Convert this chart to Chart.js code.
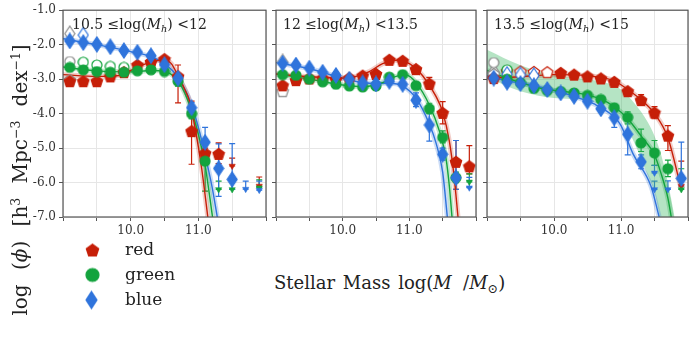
<!DOCTYPE html>
<html>
<head>
<meta charset="utf-8">
<script src="https://cdn.jsdelivr.net/npm/chart.js@4.4.0/dist/chart.umd.min.js"></script>
<style>
body { margin: 0; background: #fff; width: 695px; height: 343px; position: relative; overflow: hidden; font-family: "DejaVu Serif", serif; color: #222; }
canvas.panel { position: absolute; top: 0; }
.txt { position: absolute; white-space: nowrap; }
.ttl { font-size: 14px; }
sub { font-size: 0.7em; vertical-align: -0.35em; line-height: 0; }
sup { font-size: 0.62em; vertical-align: 0.6em; line-height: 0; }
.leg { position: absolute; left: 85px; font-size: 17px; height: 25px; line-height: 25px; }
.leg canvas { position: absolute; left: 0; top: 50%; transform: translate(0, -50%); }
.leg span { position: absolute; left: 40px; }
</style>
</head>
<body>
<canvas id="p1" class="panel" width="272" height="240" style="left:0px"></canvas>
<canvas id="p2" class="panel" width="212" height="240" style="left:270px"></canvas>
<canvas id="p3" class="panel" width="213" height="240" style="left:481px"></canvas>

<div class="txt ttl" style="left:72px;top:16px">10.5 ≤log(<i>M</i><sub><i>h</i></sub>) &lt;12</div>
<div class="txt ttl" style="left:283px;top:16px">12 ≤log(<i>M</i><sub><i>h</i></sub>) &lt;13.5</div>
<div class="txt ttl" style="left:494px;top:16px">13.5 ≤log(<i>M</i><sub><i>h</i></sub>) &lt;15</div>

<div class="txt" style="left:274px;top:272px;font-size:18px;word-spacing:2px">Stellar Mass log(<i>M</i>&thinsp; /<i>M</i><sub>⊙</sub>)</div>
<div class="txt" style="left:-155px;top:168px;width:350px;height:24px;line-height:24px;text-align:center;font-size:20px;word-spacing:8px;transform:rotate(-90deg)">log (<i>ϕ</i>) [h<sup>3</sup> Mpc<sup>−3</sup> dex<sup>−1</sup>]</div>

<div id="legend"></div>

<script>
// mass bins (log M*), shared by all panels
const mass = [9.1, 9.3, 9.5, 9.7, 9.9, 10.1, 10.3, 10.5, 10.7, 10.9, 11.1, 11.3, 11.5, 11.7, 11.9];

// ---- panel 1: 10.5 <= log Mh < 12
const red1   = [-3.06, -3.06, -3.06, -2.92, -2.80, -2.59, -2.50, -2.42, -2.92, -4.51, -5.15, -5.17, null, null, null];
const green1 = [-2.66, -2.73, -2.78, -2.80, -2.80, -2.76, -2.73, -2.78, -3.06, -4.00, -5.38, null, null, null, null];
const blue1  = [-1.89, -1.94, -1.99, -2.06, -2.17, -2.22, -2.32, -2.58, -2.97, -3.83, -4.83, -5.59, -5.91, null, null];
const red1Err   = [[10.7, -3.69, -2.59], [10.9, -5.47, -3.64], [11.1, -5.30, -5.00], [11.3, -5.45, -4.85]];
const green1Err = [[10.7, -3.20, -2.92], [10.9, -4.15, -3.85], [11.1, -6.25, -5.10]];
const blue1Err  = [[10.7, -3.08, -2.86], [10.9, -3.98, -3.68], [11.1, -5.26, -4.40], [11.3, -6.40, -4.88], [11.5, -6.20, -4.87]];
const red1Lim   = [[11.5, -5.52, -5.29], [11.9, -6.10, -5.84]];
const green1Lim = [[11.3, -6.20, -5.96], [11.5, -6.20, -5.96], [11.9, -6.15, -5.92]];
const blue1Lim  = [[11.7, -6.19, -5.96], [11.9, -6.22, -5.96]];
const open1Red = [];
const open1Green = [[9.3, -2.51], [9.5, -2.59], [9.7, -2.63], [9.9, -2.66]];
const open1Blue = [[9.3, -1.72]];
const grey1Pent = [[9.1, -3.02]];
const grey1Circ = [[9.1, -2.49]];
const grey1Diam = [[9.1, -1.68]];
const fit1RedX   = [9.0, 9.5, 9.8, 10.0, 10.2, 10.4, 10.5, 10.6, 10.7, 10.8, 10.87, 10.96, 11.05, 11.14];
const fit1RedY   = [-2.87, -2.92, -2.90, -2.75, -2.57, -2.46, -2.44, -2.55, -2.90, -3.30, -3.64, -4.50, -5.60, -7.00];
const fit1GreenX = [9.0, 9.5, 10.0, 10.3, 10.5, 10.6, 10.7, 10.8, 10.9, 11.0, 11.1, 11.21];
const fit1GreenY = [-2.65, -2.76, -2.79, -2.75, -2.78, -2.86, -3.05, -3.40, -3.92, -4.60, -5.50, -7.00];
const fit1BlueX  = [9.0, 9.5, 10.0, 10.3, 10.5, 10.7, 10.9, 11.0, 11.1, 11.2, 11.28];
const fit1BlueY  = [-1.83, -2.00, -2.20, -2.35, -2.55, -2.95, -3.75, -4.40, -5.20, -6.10, -7.00];

// ---- panel 2: 12 <= log Mh < 13.5
const red2   = [-3.18, -3.03, -2.98, -2.98, -3.00, -2.97, -2.90, -2.85, -2.44, -2.47, -2.71, -3.13, -3.98, -5.40, -5.53];
const green2 = [-2.87, -2.89, -3.00, -3.08, -3.15, -3.20, -3.23, -3.20, -2.94, -2.87, -3.19, -3.86, -4.69, -5.86, null];
const blue2  = [-2.54, -2.59, -2.68, -2.80, -2.89, -3.00, -3.11, -3.14, -3.06, -3.15, -3.61, -4.33, -5.18, -5.86, null];
const red2Err   = [[11.3, -3.30, -2.95], [11.5, -4.30, -3.65], [11.7, -6.20, -4.78], [11.9, -5.75, -4.93]];
const green2Err = [[11.3, -4.00, -3.70], [11.5, -4.85, -4.50], [11.7, -6.00, -5.70]];
const blue2Err  = [[11.1, -3.80, -3.40], [11.3, -4.80, -3.95], [11.5, -5.35, -5.00], [11.7, -6.20, -4.78]];
const red2Lim   = [];
const green2Lim = [[11.9, -5.98, -5.75]];
const blue2Lim  = [[11.9, -6.15, -5.85]];
const open2Red = [];
const open2Green = [];
const open2Blue = [];
const grey2Pent = [[9.1, -3.35]];
const grey2Circ = [];
const grey2Diam = [[9.1, -2.50]];
const fit2RedX   = [9.0, 9.5, 10.0, 10.2, 10.4, 10.6, 10.8, 11.0, 11.2, 11.4, 11.5, 11.6, 11.67, 11.73];
const fit2RedY   = [-2.85, -2.93, -2.97, -2.92, -2.78, -2.55, -2.45, -2.55, -2.90, -3.50, -3.95, -4.80, -5.80, -7.00];
const fit2GreenX = [9.0, 9.5, 10.0, 10.3, 10.6, 10.8, 10.95, 11.1, 11.3, 11.45, 11.55, 11.6, 11.64];
const fit2GreenY = [-2.85, -3.00, -3.17, -3.22, -3.10, -2.92, -2.88, -3.10, -3.75, -4.50, -5.30, -6.10, -7.00];
const fit2BlueX  = [9.0, 9.5, 10.0, 10.4, 10.7, 10.9, 11.1, 11.3, 11.4, 11.5, 11.57];
const fit2BlueY  = [-2.52, -2.70, -2.97, -3.12, -3.12, -3.20, -3.55, -4.30, -4.85, -5.70, -7.00];

// ---- panel 3: 13.5 <= log Mh < 15
const red3   = [-2.97, null, null, null, null, -2.82, -2.87, -2.92, -2.98, -3.08, -3.35, -3.61, -3.97, -4.64, null];
const green3 = [null, -3.00, -3.11, -3.27, -3.33, -3.36, -3.40, -3.47, -3.59, -3.83, -4.11, -4.85, -5.14, -5.60, null];
const blue3  = [-2.97, -3.09, -3.13, -3.19, -3.30, -3.40, -3.50, -3.64, -3.86, -4.12, -4.60, -5.40, null, null, -5.88];
const red3Err   = [[11.3, -3.75, -3.45], [11.5, -4.15, -3.80], [11.7, -5.07, -4.35]];
const green3Err = [[11.1, -4.30, -3.95], [11.3, -5.10, -4.45], [11.5, -5.50, -4.78], [11.7, -5.83, -5.35]];
const blue3Err  = [[10.9, -4.40, -3.95], [11.1, -5.20, -4.20], [11.3, -5.60, -5.20], [11.9, -6.10, -4.83]];
const red3Lim   = [[11.9, -6.10, -5.38]];
const green3Lim = [[11.9, -6.20, -5.60]];
const blue3Lim  = [[11.5, -5.72, -5.50], [11.5, -6.20, -5.96], [11.7, -6.20, -5.95]];
const open3Red = [[9.3, -2.77], [9.5, -2.78], [9.7, -2.79], [9.9, -2.80]];
const open3Green = [[9.3, -2.73]];
const open3Blue = [[9.3, -2.86], [9.5, -2.88], [9.7, -2.90]];
const grey3Pent = [[9.1, -2.85]];
const grey3Circ = [[9.1, -2.52]];
const grey3Diam = [[9.1, -2.78]];
const fit3RedX   = [9.0, 9.5, 10.0, 10.5, 10.9, 11.1, 11.3, 11.5, 11.7, 11.9];
const fit3RedY   = [-2.97, -2.93, -2.87, -2.90, -3.05, -3.30, -3.60, -4.00, -4.70, -6.20];
const fit3GreenX = [9.0, 9.3, 9.5, 9.8, 10.1, 10.4, 10.7, 10.9, 11.1, 11.3, 11.5, 11.6, 11.7, 11.75];
const fit3GreenY = [-2.75, -2.97, -3.10, -3.27, -3.35, -3.42, -3.58, -3.80, -4.15, -4.65, -5.20, -5.75, -6.45, -7.00];
const fit3BlueX  = [9.0, 9.3, 9.6, 10.0, 10.3, 10.6, 10.9, 11.0, 11.18, 11.45, 11.57];
const fit3BlueY  = [-2.90, -3.05, -3.15, -3.33, -3.50, -3.72, -4.10, -4.35, -5.17, -6.12, -7.00];
const band3X  = [9.0, 9.5, 10.0, 10.5, 10.8, 11.0, 11.2, 11.4, 11.5, 11.6, 11.7, 11.8];
const band3Hi = [-2.15, -2.60, -2.87, -3.00, -3.12, -3.30, -3.70, -4.25, -4.65, -5.20, -6.00, -7.00];
const band3Lo = [-2.95, -3.35, -3.55, -3.62, -3.85, -4.15, -4.85, -5.80, -6.30, -7.20, -8.20, -9.20];

const RED = '#c61f08', GREEN = '#13a33d', BLUE = '#2f74dc', GREY = '#8a8a8a';

// marker images (Chart.js has no pentagon or tall diamond)
function marker(shape, fill, stroke, s) {
    const c = document.createElement('canvas');
    const w = shape === 'diam' ? Math.round(s * 0.64) : s;
    c.width = w + 2; c.height = s + 2;
    const g = c.getContext('2d');
    g.fillStyle = fill; g.strokeStyle = stroke; g.lineWidth = 1.2;
    const cx = c.width / 2, cy = c.height / 2;
    g.beginPath();
    if (shape === 'pent') {
        const r = s / 2;
        for (let k = 0; k < 5; k++) {
            const a = -Math.PI / 2 + k * 2 * Math.PI / 5;
            g.lineTo(cx + r * Math.cos(a), cy + r * Math.sin(a) + r * 0.1);
        }
        g.closePath();
    } else if (shape === 'diam') {
        g.moveTo(cx, 1); g.lineTo(cx + w / 2, cy); g.lineTo(cx, s + 1); g.lineTo(cx - w / 2, cy); g.closePath();
    } else {
        g.arc(cx, cy, s / 2, 0, Math.PI * 2);
    }
    g.fill(); g.stroke();
    return c;
}
const SIZE = { pent: 12, circ: 10, diam: 15 };
const mk = (shape, col, hollow) => marker(shape, hollow ? '#fff' : col, col, SIZE[shape]);

// error bars + upper-limit stems
const errorBars = {
    id: 'errorBars',
    beforeDatasetsDraw(chart) {
        const { ctx, scales: { x, y } } = chart;
        ctx.save();
        ctx.lineWidth = 1.2;
        chart.data.datasets.forEach(ds => {
            if (!ds.bars) return;
            ctx.strokeStyle = ds.bars;
            ds.data.forEach(p => {
                if (p.lo == null) return;
                const px = x.getPixelForValue(p.x);
                const a = y.getPixelForValue(p.lo), b = y.getPixelForValue(p.hi);
                ctx.beginPath();
                ctx.moveTo(px, a); ctx.lineTo(px, b);
                ctx.moveTo(px - 3, b); ctx.lineTo(px + 3, b);
                ctx.moveTo(px - 3, a); ctx.lineTo(px + 3, a);
                ctx.stroke();
            });
        });
        ctx.restore();
    }
};

const frame = {
    id: 'frame',
    afterDraw(chart) {
        const { ctx, chartArea: a } = chart;
        ctx.save();
        ctx.strokeStyle = '#555';
        ctx.lineWidth = 1.2;
        ctx.strokeRect(a.left, a.top, a.right - a.left, a.bottom - a.top);
        ctx.restore();
    }
};

function zip(xs, ys) { return xs.map((x, i) => ({ x: x, y: ys[i] })); }

function series(vals, errs) {
    const out = [];
    mass.forEach((m, i) => {
        if (vals[i] == null) return;
        const e = errs.find(r => r[0] === m);
        out.push({ x: m, y: vals[i], lo: e ? e[1] : null, hi: e ? e[2] : null });
    });
    return out;
}

function makePanel(id, p, showY, padRight) {
    const ds = [];
    const cols = { red: RED, green: GREEN, blue: BLUE };
    const shapes = { red: 'pent', green: 'circ', blue: 'diam' };
    const halo = { red: 'rgba(198,31,8,0.22)', green: 'rgba(19,163,61,0.25)', blue: 'rgba(47,116,220,0.25)' };

    if (p.bandX) {
        ds.push({ data: zip(p.bandX, p.bandHi), fill: '+1', backgroundColor: 'rgba(60,185,100,0.38)', borderColor: 'rgba(0,0,0,0)', pointRadius: 0, cubicInterpolationMode: 'monotone', order: 30 });
        ds.push({ data: zip(p.bandX, p.bandLo), fill: false, borderColor: 'rgba(0,0,0,0)', pointRadius: 0, cubicInterpolationMode: 'monotone', order: 30 });
    }
    ['red', 'green', 'blue'].forEach(c => {
        const f = zip(p.fit[c][0], p.fit[c][1]);
        ds.push({ data: f, borderColor: halo[c], borderWidth: 5, pointRadius: 0, fill: false, cubicInterpolationMode: 'monotone', order: 25 });
        ds.push({ data: f, borderColor: cols[c], borderWidth: 1.4, pointRadius: 0, fill: false, cubicInterpolationMode: 'monotone', order: 20 });
    });
    // grey hollow (uncorrected) points
    [['pent', p.grey.pent], ['circ', p.grey.circ], ['diam', p.grey.diam]].forEach(([s, arr]) => {
        if (!arr.length) return;
        ds.push({ data: arr.map(r => ({ x: r[0], y: r[1] })), showLine: false, pointStyle: mk(s, GREY, true), pointRadius: 5, order: 15 });
    });
    ['red', 'green', 'blue'].forEach((c, k) => {
        if (p.open[c].length) {
            ds.push({ data: p.open[c].map(r => ({ x: r[0], y: r[1] })), showLine: false, pointStyle: mk(shapes[c], cols[c], true), pointRadius: 5, order: 12 - k });
        }
        ds.push({ data: p.lim[c].map(r => ({ x: r[0], y: r[1], lo: r[1], hi: r[2] })), showLine: false, bars: cols[c], pointStyle: 'triangle', rotation: 180, pointRadius: 3.6, backgroundColor: cols[c], borderColor: cols[c], borderWidth: 0.5, order: 8 - k });
        ds.push({ data: series(p.vals[c], p.err[c]), showLine: false, bars: cols[c], pointStyle: mk(shapes[c], cols[c], false), pointRadius: 5, order: 5 - k });
    });

    const tickFont = { family: 'DejaVu Serif', size: 12 };
    new Chart(document.getElementById(id).getContext('2d'), {
        type: 'line',
        data: { datasets: ds },
        options: {
            responsive: false,
            animation: false,
            layout: { padding: { top: 8, right: padRight, left: 0, bottom: 0 } },
            plugins: { legend: { display: false }, tooltip: { enabled: false } },
            scales: {
                x: {
                    type: 'linear', min: 9, max: 12,
                    afterFit: s => { s.height = 23; },
                    ticks: { stepSize: 0.5, autoSkip: false, maxRotation: 0, padding: 3, color: '#333', font: tickFont,
                        callback: v => (v === 10 || v === 11) ? v.toFixed(1) : '' },
                    grid: { color: '#e6e6e6', tickColor: '#555', tickLength: 4 },
                    border: { display: false }
                },
                y: {
                    min: -7, max: -1,
                    afterFit: s => { s.width = showY ? 63 : 4; },
                    ticks: { stepSize: 1, padding: 3, color: '#333', font: tickFont,
                        callback: v => showY ? v.toFixed(1) : '' },
                    grid: { color: '#e6e6e6', tickColor: '#555', tickLength: 4 },
                    border: { display: false }
                }
            }
        },
        plugins: [errorBars, frame]
    });
}

makePanel('p1', {
    vals: { red: red1, green: green1, blue: blue1 },
    err: { red: red1Err, green: green1Err, blue: blue1Err },
    lim: { red: red1Lim, green: green1Lim, blue: blue1Lim },
    open: { red: open1Red, green: open1Green, blue: open1Blue },
    grey: { pent: grey1Pent, circ: grey1Circ, diam: grey1Diam },
    fit: { red: [fit1RedX, fit1RedY], green: [fit1GreenX, fit1GreenY], blue: [fit1BlueX, fit1BlueY] }
}, true, 3);

makePanel('p2', {
    vals: { red: red2, green: green2, blue: blue2 },
    err: { red: red2Err, green: green2Err, blue: blue2Err },
    lim: { red: red2Lim, green: green2Lim, blue: blue2Lim },
    open: { red: open2Red, green: open2Green, blue: open2Blue },
    grey: { pent: grey2Pent, circ: grey2Circ, diam: grey2Diam },
    fit: { red: [fit2RedX, fit2RedY], green: [fit2GreenX, fit2GreenY], blue: [fit2BlueX, fit2BlueY] }
}, false, 2);

makePanel('p3', {
    vals: { red: red3, green: green3, blue: blue3 },
    err: { red: red3Err, green: green3Err, blue: blue3Err },
    lim: { red: red3Lim, green: green3Lim, blue: blue3Lim },
    open: { red: open3Red, green: open3Green, blue: open3Blue },
    grey: { pent: grey3Pent, circ: grey3Circ, diam: grey3Diam },
    fit: { red: [fit3RedX, fit3RedY], green: [fit3GreenX, fit3GreenY], blue: [fit3BlueX, fit3BlueY] },
    bandX: band3X, bandHi: band3Hi, bandLo: band3Lo
}, false, 2);

// legend below the first panel
const legendNames = ['red', 'green', 'blue'];
const legendShapes = ['pent', 'circ', 'diam'];
const legendCols = [RED, GREEN, BLUE];
legendNames.forEach((name, i) => {
    const row = document.createElement('div');
    row.className = 'leg';
    row.style.top = (237 + i * 25) + 'px';
    const m = marker(legendShapes[i], legendCols[i], legendCols[i], legendShapes[i] === 'diam' ? 17 : 13);
    row.appendChild(m);
    const t = document.createElement('span');
    t.textContent = name;
    row.appendChild(t);
    document.getElementById('legend').appendChild(row);
});
</script>
</body>
</html>
